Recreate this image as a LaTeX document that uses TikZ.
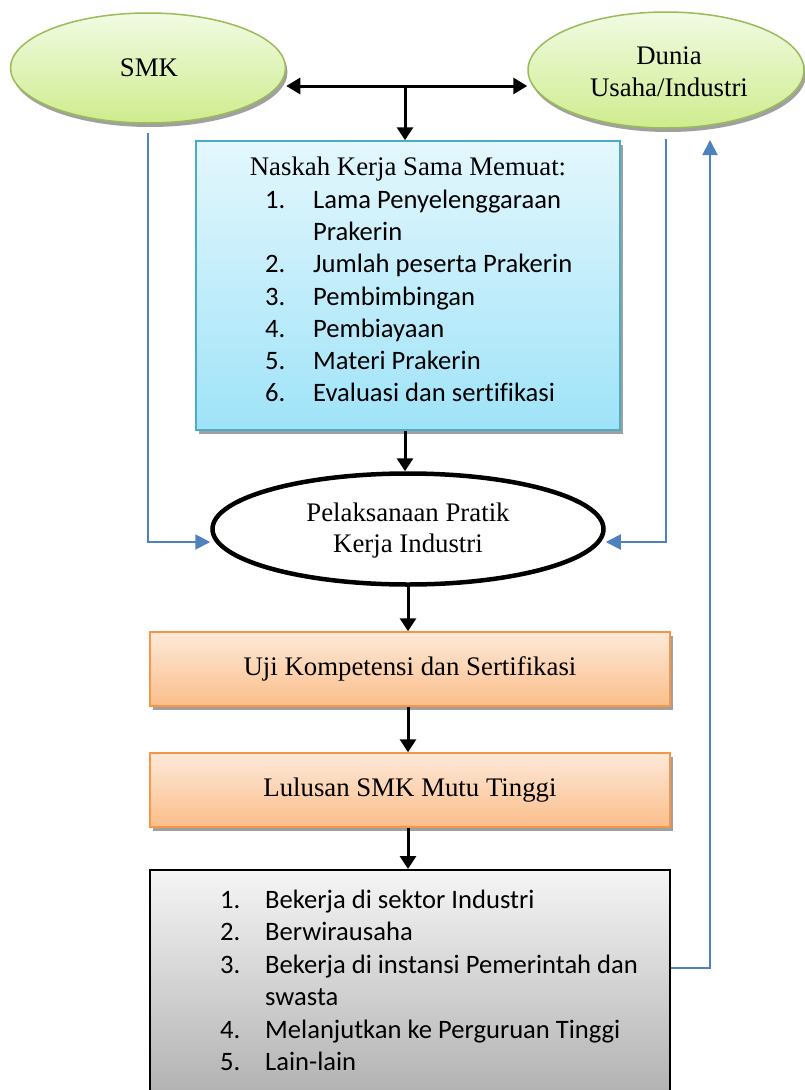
\documentclass[tikz,border=0pt]{standalone}
\usepackage{fontspec}
\setmainfont[Ligatures=NoCommon]{Liberation Serif}
\newfontfamily\calfont[Ligatures=NoCommon]{Carlito}
\usetikzlibrary{shapes.geometric,arrows.meta,shadows}
\definecolor{gborder}{HTML}{9BBB59}
\definecolor{gtop}{HTML}{F1FBE3}
\definecolor{gbot}{HTML}{CFEC8E}
\definecolor{bborder}{HTML}{4BACC6}
\definecolor{btop}{HTML}{E4F7FD}
\definecolor{bbot}{HTML}{9FE3F8}
\definecolor{oborder}{HTML}{F79646}
\definecolor{otop}{HTML}{FDE9D9}
\definecolor{obot}{HTML}{FBBE8A}
\definecolor{lblue}{HTML}{4F81BD}
\definecolor{shd}{HTML}{A0A0A0}
\definecolor{gyTop}{HTML}{F5F5F5}
\definecolor{gyBot}{HTML}{B0B0B0}
\begin{document}
\begin{tikzpicture}[x=1pt,y=-1pt,
  txt/.style={font=\fontsize{26.8}{32}\selectfont, inner sep=0pt, anchor=base},
  ctxt/.style={font=\calfont\fontsize{26.6}{32}\selectfont, inner sep=0pt, anchor=base west},
  greenell/.style={ellipse, draw=gborder, line width=1.5pt, top color=gtop, bottom color=gbot, inner sep=0pt,
    drop shadow={shadow xshift=2pt, shadow yshift=-4pt, fill=shd, opacity=1}},
  bluebox/.style={rectangle, draw=bborder, line width=1.5pt, top color=btop, bottom color=bbot, inner sep=0pt,
    minimum width=424pt, minimum height=289pt,
    drop shadow={shadow xshift=3pt, shadow yshift=-4pt, fill=shd, opacity=1}},
  obox/.style={rectangle, draw=oborder, line width=1.5pt, top color=otop, bottom color=obot, inner sep=0pt,
    minimum width=520pt, minimum height=74pt, font=\fontsize{26.8}{32}\selectfont,
    drop shadow={shadow xshift=3pt, shadow yshift=-4pt, fill=shd, opacity=1}},
  gbox/.style={rectangle, draw=black, line width=2pt, top color=gyTop, bottom color=gyBot, inner sep=0pt,
    minimum width=520pt, minimum height=230pt},
  blk/.style={line width=3pt, -{Triangle[length=13pt,width=16pt]}},
  dbl/.style={line width=3pt, {Triangle[length=14pt,width=16pt]}-{Triangle[length=14pt,width=16pt]}},
  blu/.style={draw=lblue, line width=2pt, -{Triangle[length=15pt,width=15pt]}},
]
\useasboundingbox (0,0) rectangle (804,1090);

% top ellipses
\node[greenell, minimum width=275pt, minimum height=110pt] (smk) at (148,68) {};
\node[txt] (smkt) at (149,76) {SMK};
\node[greenell, minimum width=276pt, minimum height=116pt] (dunia) at (666,70) {};
\node[txt] (dun1) at (669,64) {Dunia};
\node[txt] (dun2) at (669,96) {Usaha/Industri};

% agreement box
\node[bluebox] (naskah) at (408,285.5) {};
\node[txt] (h0) at (408,175) {Naskah Kerja Sama Memuat:};
\node[ctxt] (n1) at (265,208) {1.};
\node[ctxt] (t1) at (313,208) {Lama Penyelenggaraan};
\node[ctxt] (t1b) at (313,240.3) {Prakerin};
\node[ctxt] (n2) at (265,272.6) {2.};
\node[ctxt] (t2) at (313,272.6) {Jumlah peserta Prakerin};
\node[ctxt] (n3) at (265,305) {3.};
\node[ctxt] (t3) at (313,305) {Pembimbingan};
\node[ctxt] (n4) at (265,337.2) {4.};
\node[ctxt] (t4) at (313,337.2) {Pembiayaan};
\node[ctxt] (n5) at (265,369.5) {5.};
\node[ctxt] (t5) at (313,369.5) {Materi Prakerin};
\node[ctxt] (n6) at (265,401.8) {6.};
\node[ctxt] (t6) at (313,401.8) {Evaluasi dan sertifikasi};

% implementation ellipse
\node[ellipse, draw=black, line width=4.5pt, fill=white, inner sep=0pt,
      minimum width=391pt, minimum height=111pt] (pel) at (408,529) {};
\node[txt] (p1) at (408,521) {Pelaksanaan Pratik};
\node[txt] (p2) at (408,552) {Kerja Industri};

% orange boxes
\node[obox] (uji) at (410,669) {Uji Kompetensi dan Sertifikasi};
\node[obox] (lul) at (410,790) {Lulusan SMK Mutu Tinggi};

% outcomes box
\node[gbox] (out) at (410,985) {};
\node[ctxt] (m1) at (220,908) {1.};
\node[ctxt] (u1) at (265,908) {Bekerja di sektor Industri};
\node[ctxt] (m2) at (220,940.5) {2.};
\node[ctxt] (u2) at (265,940.5) {Berwirausaha};
\node[ctxt] (m3) at (220,973) {3.};
\node[ctxt] (u3) at (265,973) {Bekerja di instansi Pemerintah dan};
\node[ctxt] (u3b) at (265,1005.5) {swasta};
\node[ctxt] (m4) at (220,1038) {4.};
\node[ctxt] (u4) at (265,1038) {Melanjutkan ke Perguruan Tinggi};
\node[ctxt] (m5) at (220,1070.5) {5.};
\node[ctxt] (u5) at (265,1070.5) {Lain-lain};

% black connectors
\draw[dbl] ([yshift=-18pt]smk.east) -- ([yshift=-16pt]dunia.west);
\coordinate (j) at (405,86);
\draw[blk] (j) -- (j |- naskah.north);
\draw[blk] (naskah.south -| j) -- (j |- pel.north);
\draw[blk] (pel.south) -- (pel.south |- uji.north);
\draw[blk] (uji.south -| pel.south) -- (pel.south |- lul.north);
\draw[blk] (lul.south -| pel.south) -- (pel.south |- out.north);

% blue connectors
\draw[blu] ([yshift=-9pt]smk.south) |- ([yshift=-13pt]pel.west);
\draw[blu] ([yshift=-10pt]dunia.south) |- ([yshift=-13pt]pel.east);
\coordinate (rt) at (710,140);
\draw[blu] ([yshift=17pt]out.east) -| (rt);
\end{tikzpicture}
\end{document}
